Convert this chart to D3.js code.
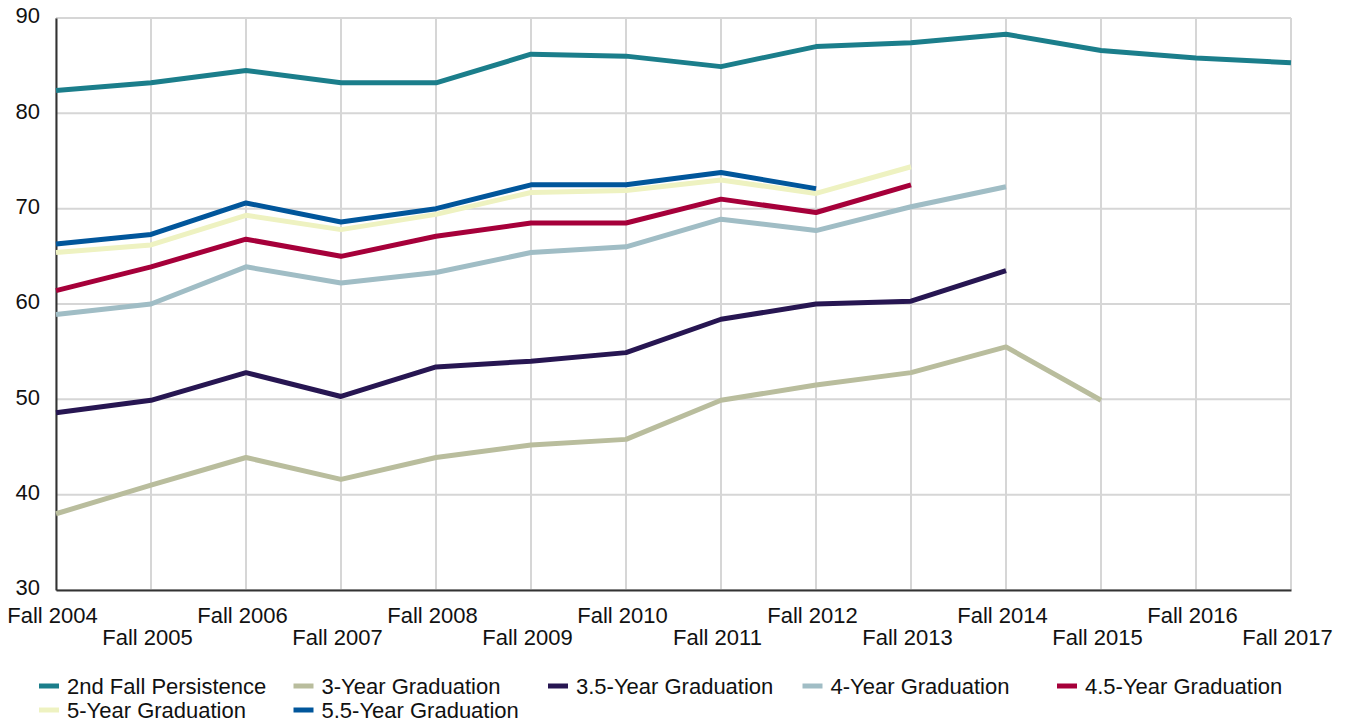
<!DOCTYPE html>
<html><head><meta charset="utf-8">
<script src="https://cdn.jsdelivr.net/npm/d3@7"></script>
<style>body{margin:0;background:#fff;} svg{display:block;font-family:"Liberation Sans",Arial,sans-serif;}</style>
</head><body><svg id="c" width="1346" height="722"></svg>
<script>
const categories = ["Fall 2004","Fall 2005","Fall 2006","Fall 2007","Fall 2008","Fall 2009","Fall 2010","Fall 2011","Fall 2012","Fall 2013","Fall 2014","Fall 2015","Fall 2016","Fall 2017"];
const yTicks = [30,40,50,60,70,80,90];
const seriesNames = ["2nd Fall Persistence","3-Year Graduation","3.5-Year Graduation","4-Year Graduation","4.5-Year Graduation","5-Year Graduation","5.5-Year Graduation"];
const seriesColors = ["#1b7e8b","#b9bd9d","#271652","#a0bdc5","#a6003a","#eef2c1","#01569b"];
const persistence2nd = [82.4,83.2,84.5,83.2,83.2,86.2,86.0,84.9,87.0,87.4,88.3,86.6,85.8,85.3];
const grad3 = [38.0,41.0,43.9,41.6,43.9,45.2,45.8,49.9,51.5,52.8,55.5,49.9,null,null];
const grad35 = [48.6,49.9,52.8,50.3,53.4,54.0,54.9,58.4,60.0,60.3,63.5,null,null,null];
const grad4 = [58.9,60.0,63.9,62.2,63.3,65.4,66.0,68.9,67.7,70.2,72.3,null,null,null];
const grad45 = [61.4,63.9,66.8,65.0,67.1,68.5,68.5,71.0,69.6,72.5,null,null,null,null];
const grad5 = [65.4,66.2,69.3,67.8,69.4,71.7,71.9,73.0,71.6,74.4,null,null,null,null];
const grad55 = [66.3,67.3,70.6,68.6,70.0,72.5,72.5,73.8,72.1,null,null,null,null,null];
const seriesValues = [persistence2nd,grad3,grad35,grad4,grad45,grad5,grad55];

const FS = 22;
const svg = d3.select("#c");
const L = 56, R = 1291, T = 18, B = 590;
const x = d3.scalePoint().domain(categories).range([L, R]).padding(0);
const y = d3.scaleLinear().domain([30, 90]).range([B, T]);

// grid
const g = svg.append("g");
g.selectAll("line.h").data(yTicks).join("line")
  .attr("x1", L).attr("x2", R).attr("y1", d => y(d)).attr("y2", d => y(d))
  .attr("stroke", "#d6d6d6").attr("stroke-width", 2);
g.selectAll("line.v").data(categories).join("line")
  .attr("x1", d => x(d)).attr("x2", d => x(d)).attr("y1", T).attr("y2", B)
  .attr("stroke", "#d6d6d6").attr("stroke-width", 2);

// axes
const yAxis = svg.append("g").attr("transform", `translate(${L},0)`)
  .call(d3.axisLeft(y).tickValues(yTicks).tickSize(0).tickPadding(16));
yAxis.select(".domain").attr("stroke", "#333").attr("stroke-width", 2);
yAxis.selectAll("text").attr("font-size", FS).attr("fill", "#111").attr("font-family", "Liberation Sans, Arial, sans-serif").attr("dy", "0.22em");

const xAxis = svg.append("g").attr("transform", `translate(0,${B})`)
  .call(d3.axisBottom(x).tickSize(0).tickPadding(0));
xAxis.select(".domain").attr("stroke", "#333").attr("stroke-width", 2);
xAxis.selectAll("text").attr("font-size", FS).attr("fill", "#111")
  .attr("font-family", "Liberation Sans, Arial, sans-serif")
  .attr("dx", -4)
  .attr("dy", null)
  .attr("y", (d, i) => i % 2 === 0 ? 33 : 55);

// lines
const line = d3.line().defined(d => d[1] != null).x(d => x(d[0])).y(d => y(d[1]));
seriesValues.forEach((vals, i) => {
  svg.append("path")
    .datum(categories.map((c, j) => [c, vals[j]]))
    .attr("d", line).attr("fill", "none")
    .attr("stroke", seriesColors[i]).attr("stroke-width", 5)
    .attr("stroke-linejoin", "round").attr("stroke-linecap", "butt");
});

// legend
const leg = svg.append("g");
seriesNames.forEach((n, i) => {
  const col = i < 5 ? i : i - 5;
  const row = i < 5 ? 0 : 1;
  const lx = 39 + col * 254.5, ly = 686 + row * 24;
  leg.append("line").attr("x1", lx).attr("x2", lx + 20).attr("y1", ly).attr("y2", ly)
    .attr("stroke", seriesColors[i]).attr("stroke-width", 5);
  leg.append("text").attr("x", lx + 28).attr("y", ly + 7.5).attr("font-size", FS)
    .attr("fill", "#111").text(n);
});
</script></body></html>
